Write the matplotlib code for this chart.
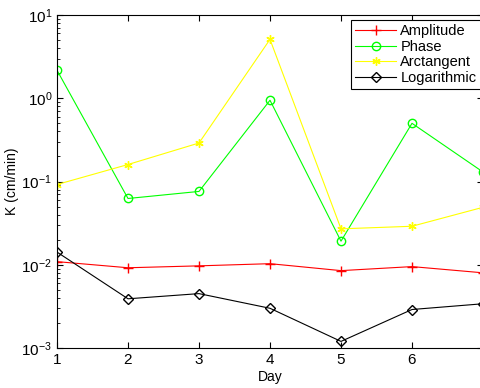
import matplotlib
matplotlib.use("Agg")
import matplotlib.pyplot as plt

plt.rcParams['font.family'] = ['Liberation Sans', 'DejaVu Sans']
plt.rcParams['mathtext.default'] = 'regular'

# data
day = [1, 2, 3, 4, 5, 6, 7]
amplitude = [0.0109, 0.0092, 0.0097, 0.0103, 0.0085, 0.0095, 0.0080]
phase = [2.17, 0.0625, 0.076, 0.946, 0.0192, 0.50, 0.13]
arctangent = [0.092, 0.16, 0.29, 5.1, 0.027, 0.029, 0.049]
logarithmic = [0.0142, 0.0039, 0.0045, 0.0030, 0.0012, 0.0029, 0.0034]

fig = plt.figure(figsize=(4.8, 3.88), dpi=100)
ax = fig.add_axes([57 / 480, 40 / 388, 426 / 480, 333 / 388])

ax.plot(day, amplitude, color='#ff0000', marker='+', ms=7, lw=0.8, label='Amplitude')
ax.plot(day, phase, color='#00ff00', marker='o', ms=6, mfc='none', lw=0.8, label='Phase')
ax.plot(day, arctangent, color='#ffff00', marker=(6, 2, 0), ms=6, lw=0.8, label='Arctangent')
ax.plot(day, logarithmic, color='black', marker='D', ms=4.7, mfc='none', lw=0.8, label='Logarithmic')

ax.set_yscale('log')
ax.set_ylim(1e-3, 1e1)
ax.set_xlim(1, 7)
ax.set_xticks([1, 2, 3, 4, 5, 6])
ax.set_xlabel('Day', fontsize=10, labelpad=2)
ax.set_ylabel('K (cm/min)', fontsize=10, labelpad=2)

ax.tick_params(which='both', direction='in', top=True, right=True, labelsize=11)
ax.tick_params(which='major', length=4)
ax.tick_params(which='minor', length=2)
for s in ax.spines.values():
    s.set_linewidth(0.8)

leg = ax.legend(loc='upper right', bbox_to_anchor=(0.995, 0.985), fontsize=10.5,
                fancybox=False, framealpha=1, edgecolor='black',
                handlelength=2.8, borderpad=0.3, labelspacing=0.1, handletextpad=0.3,
                borderaxespad=0)
leg.get_frame().set_linewidth(0.8)

fig.savefig('out.png', dpi=100)
